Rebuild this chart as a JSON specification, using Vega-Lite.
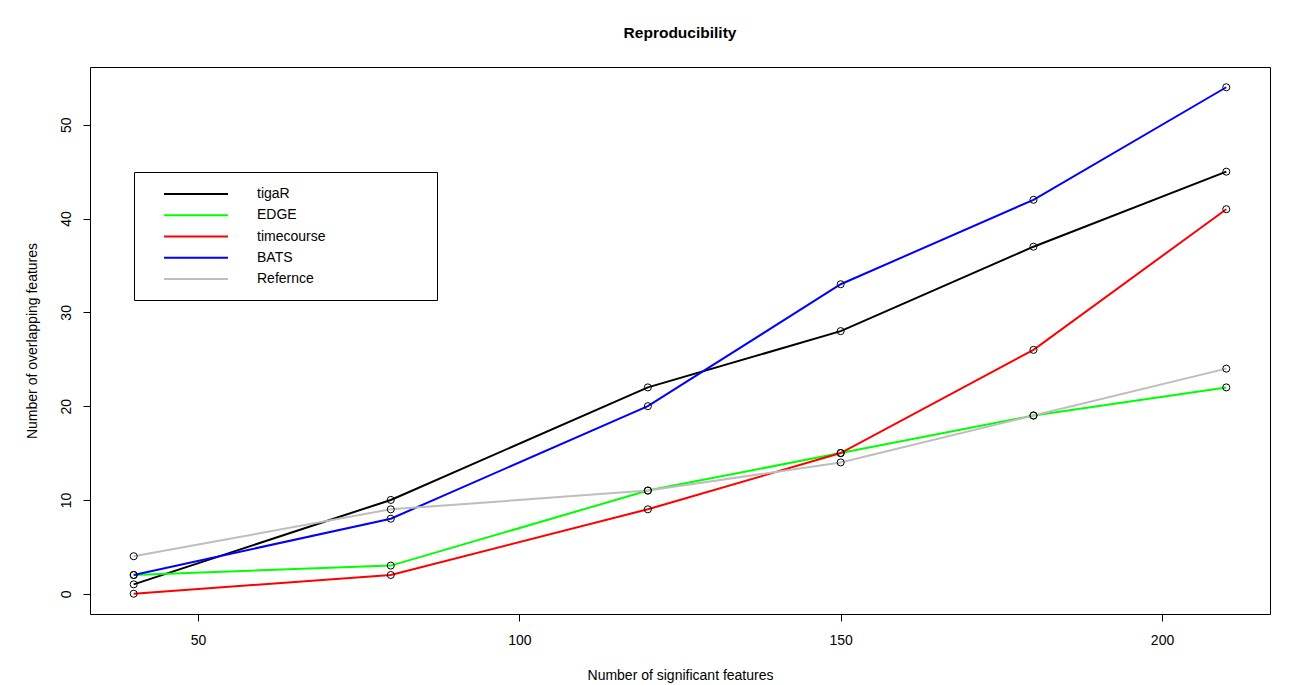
{
  "$schema": "https://vega.github.io/schema/vega-lite/v6.json",
  "autosize": "none",
  "width": 1180,
  "height": 547,
  "padding": {"left": 90, "top": 67, "right": 22, "bottom": 71},
  "background": "white",
  "title": {"text": "Reproducibility", "fontSize": 15.5, "fontWeight": "bold", "font": "Liberation Sans", "anchor": "middle", "frame": "group", "baseline": "middle", "offset": 19, "color": "black"},
  "data": {"values": [
    {"method": "tigaR", "features": 40, "overlap": 1},
    {"method": "tigaR", "features": 80, "overlap": 10},
    {"method": "tigaR", "features": 120, "overlap": 22},
    {"method": "tigaR", "features": 150, "overlap": 28},
    {"method": "tigaR", "features": 180, "overlap": 37},
    {"method": "tigaR", "features": 210, "overlap": 45},
    {"method": "EDGE", "features": 40, "overlap": 2},
    {"method": "EDGE", "features": 80, "overlap": 3},
    {"method": "EDGE", "features": 120, "overlap": 11},
    {"method": "EDGE", "features": 150, "overlap": 15},
    {"method": "EDGE", "features": 180, "overlap": 19},
    {"method": "EDGE", "features": 210, "overlap": 22},
    {"method": "timecourse", "features": 40, "overlap": 0},
    {"method": "timecourse", "features": 80, "overlap": 2},
    {"method": "timecourse", "features": 120, "overlap": 9},
    {"method": "timecourse", "features": 150, "overlap": 15},
    {"method": "timecourse", "features": 180, "overlap": 26},
    {"method": "timecourse", "features": 210, "overlap": 41},
    {"method": "BATS", "features": 40, "overlap": 2},
    {"method": "BATS", "features": 80, "overlap": 8},
    {"method": "BATS", "features": 120, "overlap": 20},
    {"method": "BATS", "features": 150, "overlap": 33},
    {"method": "BATS", "features": 180, "overlap": 42},
    {"method": "BATS", "features": 210, "overlap": 54},
    {"method": "Refernce", "features": 40, "overlap": 4},
    {"method": "Refernce", "features": 80, "overlap": 9},
    {"method": "Refernce", "features": 120, "overlap": 11},
    {"method": "Refernce", "features": 150, "overlap": 14},
    {"method": "Refernce", "features": 180, "overlap": 19},
    {"method": "Refernce", "features": 210, "overlap": 24}
  ]},
  "encoding": {
    "x": {
      "field": "features", "type": "quantitative",
      "title": "Number of significant features",
      "scale": {"domain": [33.2, 216.8], "nice": false, "zero": false},
      "axis": {"values": [50, 100, 150, 200], "labelPadding": 12, "titlePadding": 21}
    },
    "y": {
      "field": "overlap", "type": "quantitative",
      "title": "Number of overlapping features",
      "scale": {"domain": [-2.16, 56.16], "nice": false, "zero": false},
      "axis": {"values": [0, 10, 20, 30, 40, 50], "labelAngle": -90, "labelAlign": "center", "labelBaseline": "bottom", "labelPadding": 10, "titlePadding": 20}
    }
  },
  "layer": [
    {
      "mark": {"type": "line", "strokeWidth": 2},
      "encoding": {
        "color": {
          "field": "method", "type": "nominal",
          "scale": {"domain": ["tigaR", "EDGE", "timecourse", "BATS", "Refernce"], "range": ["#000000", "#00FF00", "#FF0000", "#0000FF", "#BEBEBE"]},
          "legend": {
            "orient": "none", "legendX": 44, "legendY": 105, "title": null,
            "symbolType": "M-4.571,0H4.571", "symbolSize": 196, "symbolStrokeWidth": 2,
            "labelFontSize": 14, "labelColor": "black", "labelOffset": 53, "labelLimit": 400,
            "labelExpr": "datum.label + '                         \u200b'",
            "padding": 14, "symbolOffset": 40, "rowPadding": 6.25,
            "strokeColor": "black", "fillColor": "white"
          }
        }
      }
    },
    {
      "mark": {"type": "point", "shape": "circle", "filled": false, "size": 50, "stroke": "#000000", "strokeWidth": 1, "opacity": 1},
      "encoding": {"detail": {"field": "method", "type": "nominal"}}
    }
  ],
  "config": {
    "font": "Liberation Sans",
    "view": {"stroke": "black", "strokeWidth": 1},
    "axis": {"domain": false, "grid": false, "ticks": true, "tickColor": "black", "tickSize": 7, "tickWidth": 1, "labelFontSize": 14, "labelColor": "black", "titleFontSize": 14, "titleFontWeight": "normal", "titleColor": "black"},
    "legend": {"strokeWidth": 1}
  }
}
